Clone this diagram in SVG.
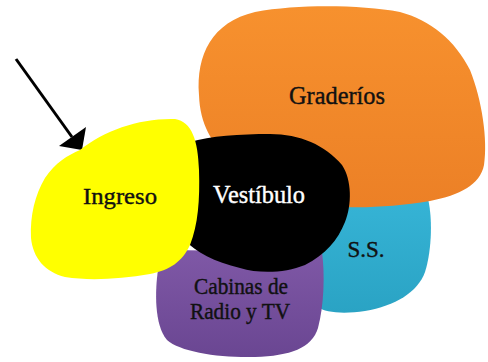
<svg xmlns="http://www.w3.org/2000/svg" width="488" height="362" viewBox="0 0 488 362">
<style>
  .lbl { font-family: "Liberation Serif", "DejaVu Serif", serif; font-size: 23px; fill: #111; text-anchor: middle; stroke: #111; stroke-width: 0.4; }
  .big { font-size: 25px; }
  .white { fill: #fff; stroke: #fff; }
</style>
<defs>
  <linearGradient id="gOr" x1="0" y1="0" x2="0" y2="1">
    <stop offset="0" stop-color="#F7912E"/><stop offset="1" stop-color="#EC8026"/>
  </linearGradient>
  <linearGradient id="gCy" x1="0" y1="0" x2="0" y2="1">
    <stop offset="0" stop-color="#36B4D6"/><stop offset="1" stop-color="#2AA3C4"/>
  </linearGradient>
  <linearGradient id="gPu" x1="0" y1="0" x2="0" y2="1">
    <stop offset="0" stop-color="#7F58A6"/><stop offset="1" stop-color="#6A4692"/>
  </linearGradient>
</defs>
<g id="connectors">
  <line x1="16" y1="59" x2="72" y2="137" stroke="#000" stroke-width="3"/>
  <polygon points="59,146 86,127 82,150" fill="#000"/>
</g>
<g id="ss">
  <path d="M 300,200 L 427,195 C 433,215 432,250 425,272 C 418,292 395,306 365,311 C 345,314 325,313 318,307 L 300,260 Z" fill="url(#gCy)"/>
  <text class="lbl" x="366" y="257">S.S.</text>
</g>
<g id="graderios">
  <path d="M 199,95 C 196,55 212,22 255,12 C 300,4 360,5 400,12 C 430,20 455,40 470,70 C 482,100 488,140 484,165 C 480,185 460,195 430,201 C 400,206 370,208 345,207 C 300,205 250,185 228,160 C 212,142 200,125 199,95 Z" fill="url(#gOr)"/>
  <text class="lbl big" x="337" y="104" textLength="96" lengthAdjust="spacingAndGlyphs">Graderíos</text>
</g>
<g id="cabinas">
  <path d="M 168,250 L 322,252 C 325,275 324,305 318,328 C 312,348 290,356 255,357 C 220,358 180,352 167,340 C 154,325 155,290 158,270 C 160,258 163,252 168,250 Z" fill="url(#gPu)"/>
  <text class="lbl" x="241" y="294" textLength="94" lengthAdjust="spacingAndGlyphs">Cabinas de</text>
  <text class="lbl" x="240" y="319" textLength="100" lengthAdjust="spacingAndGlyphs">Radio y  TV</text>
</g>
<g id="vestibulo">
  <path d="M 190,142 C 210,136 240,134 270,134 C 300,134 325,145 342,165 C 352,180 352,205 345,222 C 338,240 325,255 305,265 C 285,273 260,274 240,268 C 215,262 195,252 185,240 Z" fill="#000"/>
  <text class="lbl big white" x="259" y="203" textLength="92" lengthAdjust="spacingAndGlyphs">Vestíbulo</text>
</g>
<g id="ingreso">
  <path d="M 80,150 C 105,130 140,118 175,119 C 192,122 198,140 199,170 C 200,200 198,225 190,245 C 182,262 170,270 150,274 C 120,279 90,281 65,277 C 45,272 33,258 31,238 C 30,215 35,195 45,178 C 55,163 68,155 80,150 Z" fill="#FFFF00"/>
  <text class="lbl" x="120" y="204" textLength="74" lengthAdjust="spacingAndGlyphs">Ingreso</text>
</g>
</svg>
